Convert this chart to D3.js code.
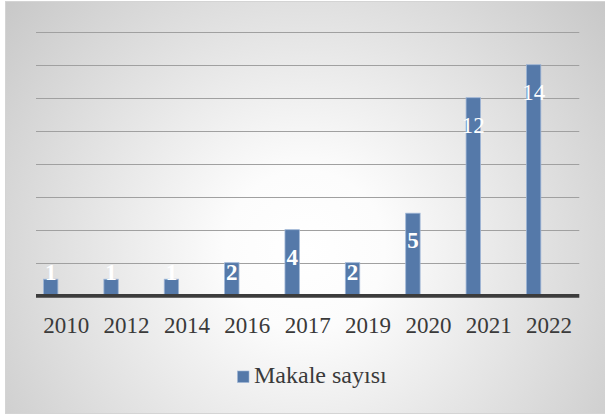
<!DOCTYPE html>
<html>
<head>
<meta charset="utf-8">
<script src="https://cdn.jsdelivr.net/npm/d3@7/dist/d3.min.js"></script>
</head>
<body style="margin:0;">
<svg></svg>
<script>
var years = ['2010', '2012', '2014', '2016', '2017', '2019', '2020', '2021', '2022'];
var counts = [1, 1, 1, 2, 4, 2, 5, 12, 14];
var gridTicks = [0, 2, 4, 6, 8, 10, 12, 14, 16];
var seriesName = 'Makale sayısı';

var width = 605;
var height = 416;
var serif = "'Liberation Serif', Tinos, 'Times New Roman', serif";

var svg = d3.select('svg')
   .attr('width', width)
   .attr('height', height);

var defs = svg.append('defs');
var grad = defs.append('radialGradient')
   .attr('id', 'bg')
   .attr('gradientUnits', 'userSpaceOnUse')
   .attr('cx', 305).attr('cy', 250).attr('r', 400);
grad.append('stop').attr('offset', '0').attr('stop-color', '#ffffff');
grad.append('stop').attr('offset', '0.2').attr('stop-color', '#fcfcfc');
grad.append('stop').attr('offset', '1').attr('stop-color', '#c6c6c6');

// chart area
svg.append('rect')
   .attr('x', 5.5).attr('y', 1.5)
   .attr('width', 605).attr('height', 412)
   .attr('fill', 'url(#bg)')
   .attr('stroke', '#d4d4d4')
   .attr('stroke-width', 1);

var x = d3.scaleBand()
   .domain(years)
   .range([36, 579.3])
   .paddingInner(0).paddingOuter(0);

var y = d3.scaleLinear()
   .domain([0, 16])
   .range([295.7, 31.7]);

var data = years.map(function(d, i) { return { year: d, value: counts[i] }; });

// gridlines
svg.append('g')
   .selectAll('line')
   .data(gridTicks.filter(function(d) { return d > 0; }))
   .enter()
   .append('line')
   .attr('x1', x.range()[0])
   .attr('x2', x.range()[1])
   .attr('y1', function(d) { return Math.round(y(d)) + 0.5; })
   .attr('y2', function(d) { return Math.round(y(d)) + 0.5; })
   .attr('stroke', '#a0a0a0')
   .attr('stroke-width', 1.2);

// bars (sit near the left of each category)
var bw = 14.4;
svg.append('g')
   .selectAll('rect')
   .data(data)
   .enter()
   .append('rect')
   .attr('x', function(d) { return x(d.year) + 7.5; })
   .attr('y', function(d) { return y(d.value); })
   .attr('width', bw)
   .attr('height', function(d) { return y(0) - y(d.value); })
   .attr('fill', '#5579a9')
   .attr('stroke', '#9fb6d6')
   .attr('stroke-width', 0.8);

// baseline
svg.append('line')
   .attr('x1', x.range()[0])
   .attr('x2', x.range()[1])
   .attr('y1', y(0) + 0.2)
   .attr('y2', y(0) + 0.2)
   .attr('stroke', '#3c3c3c')
   .attr('stroke-width', 3.6);

// data labels
svg.append('g')
   .selectAll('text')
   .data(data)
   .enter()
   .append('text')
   .attr('x', function(d) { return x(d.year) + 7.5 + bw / 2; })
   .attr('y', function(d) { return Math.min(y(d.value) + 27, y(0) - 24) + 8; })
   .attr('text-anchor', 'middle')
   .attr('fill', '#ffffff')
   .style('font-family', serif, 'important')
   .style('font-size', '23px')
   .style('font-weight', function(d) { return d.value >= 10 ? 'normal' : 'bold'; })
   .text(function(d) { return d.value; });

// year labels
svg.append('g')
   .selectAll('text')
   .data(years)
   .enter()
   .append('text')
   .attr('x', function(d) { return x(d) + x.bandwidth() / 2; })
   .attr('y', 332.7)
   .attr('text-anchor', 'middle')
   .attr('fill', '#3a3a3a')
   .style('font-family', serif, 'important')
   .style('font-size', '23px')
   .text(function(d) { return d; });

// legend
var lg = svg.append('g');
lg.append('rect')
   .attr('x', 237.5).attr('y', 371)
   .attr('width', 11.5).attr('height', 11.5)
   .attr('fill', '#5579a9')
   .attr('stroke', '#9fb6d6')
   .attr('stroke-width', 0.6);
lg.append('text')
   .attr('x', 254)
   .attr('y', 383.3)
   .attr('fill', '#3a3a3a')
   .style('font-family', serif, 'important')
   .style('font-size', '24px')
   .text(seriesName);
</script>
</body>
</html>
